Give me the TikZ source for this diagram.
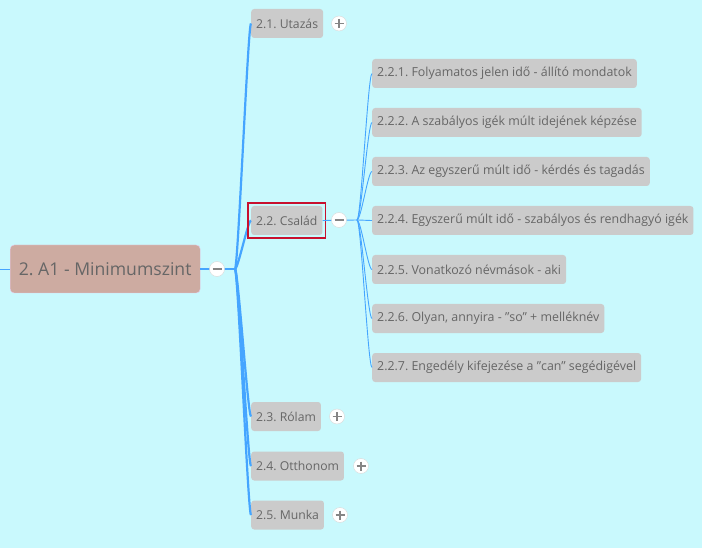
\documentclass[tikz,border=0pt]{standalone}
\usepackage{fontspec}
\setmainfont{Open Sans}
\usetikzlibrary{fit,calc}
\definecolor{bgc}{HTML}{C9F9FD}
\definecolor{boxc}{HTML}{CBCBCB}
\definecolor{txtc}{HTML}{666666}
\definecolor{linec}{HTML}{45A5FF}
\definecolor{rootc}{HTML}{CDABA1}
\definecolor{rootb}{HTML}{E8C8E8}
\definecolor{selc}{HTML}{C8102E}
\tikzset{
  x=1pt, y=-1pt,
  box/.style={fill=boxc, rounded corners=3pt, text=txtc, minimum height=29pt, inner ysep=0pt, inner xsep=5pt, anchor=west, font=\fontsize{12.2}{14}\selectfont},
  subbox/.style={box, font=\fontsize{12.4}{14}\selectfont},
  rootbox/.style={fill=rootc, draw=rootb, rounded corners=4pt, text=txtc, minimum width=190pt, minimum height=48pt, inner sep=0pt, anchor=west, font=\fontsize{17.6}{19}\selectfont},
  toggle/.style={circle, fill=white, draw=black!15, minimum size=15pt, inner sep=0pt},
  mainline/.style={draw=linec, line width=2.2pt},
  subline/.style={draw=linec, line width=0.9pt},
  selbox/.style={draw=selc, line width=1.6pt, inner sep=3pt},
}
\newcommand{\plussign}[1]{\draw[txtc!80, line width=1.2pt] ($(#1)+(-4.5,0)$) -- ($(#1)+(4.5,0)$) ($(#1)+(0,-4.5)$) -- ($(#1)+(0,4.5)$);}
\newcommand{\minussign}[1]{\draw[txtc!80, line width=1.2pt] ($(#1)+(-4.5,0)$) -- ($(#1)+(4.5,0)$);}
\newcommand{\sq}{\symbol{34}}
\frenchspacing
\begin{document}
\begin{tikzpicture}
\fill[bgc] (0,0) rectangle (702,548);
\useasboundingbox (0,0) rectangle (702,548);
% root
\node[rootbox] (root) at (10,269) {2. A1 - Minimumszint};
\coordinate (lft) at (0,269);
\draw[subline] (lft) -- (root.west);
\coordinate (hub) at (235,269);
\draw[mainline] (root.east) -- (hub);
\node[toggle] (rt) at (217,269) {};
\minussign{rt}
% level 1
\node[box] (c21) at (251,23.5) {2.1. Utazás};
\node[box] (c22) at (251,220.5) {2.2. Család};
\node[box] (c23) at (251,416.5) {2.3. Rólam};
\node[box] (c24) at (251,466) {2.4. Otthonom};
\node[box] (c25) at (251,515) {2.5. Munka};
\foreach \c in {c21,c22,c23,c24,c25}{
  \draw[mainline] (hub) .. controls ($(hub)+(3,0)$) and ($(\c.west)+(-3,0)$) .. (\c.west);
}
\node[selbox, fit=(c22)] (sel) {};
\node[toggle] (t21) at (339,23.5) {}; \plussign{t21}
\node[toggle] (t23) at (337,416.5) {}; \plussign{t23}
\node[toggle] (t24) at (361,466) {}; \plussign{t24}
\node[toggle] (t25) at (340,515) {}; \plussign{t25}
% level 2
\coordinate (hub2) at (357,220);
\draw[subline] (c22.east) -- (hub2);
\node[toggle] (t22) at (339,220) {}; \minussign{t22}
\node[subbox] (s1) at (372,73.5) {2.2.1. Folyamatos jelen idő - állító mondatok};
\node[subbox] (s2) at (372,122.5) {2.2.2. A szabályos igék múlt idejének képzése};
\node[subbox] (s3) at (372,171.5) {2.2.3. Az egyszerű múlt idő - kérdés és tagadás};
\node[subbox] (s4) at (372,220.5) {2.2.4. Egyszerű múlt idő - szabályos és rendhagyó igék};
\node[subbox] (s5) at (372,269.5) {2.2.5. Vonatkozó névmások - aki};
\node[subbox] (s6) at (372,318.5) {2.2.6. Olyan, annyira - \sq so\sq{} + melléknév};
\node[subbox] (s7) at (372,367.5) {2.2.7. Engedély kifejezése a \sq can\sq{} segédigével};
\foreach \s in {s1,s2,s3,s4,s5,s6,s7}{
  \draw[subline] (hub2) .. controls ($(hub2)+(4,0)$) and ($(\s.west)+(-4,0)$) .. (\s.west);
}
\end{tikzpicture}
\end{document}
